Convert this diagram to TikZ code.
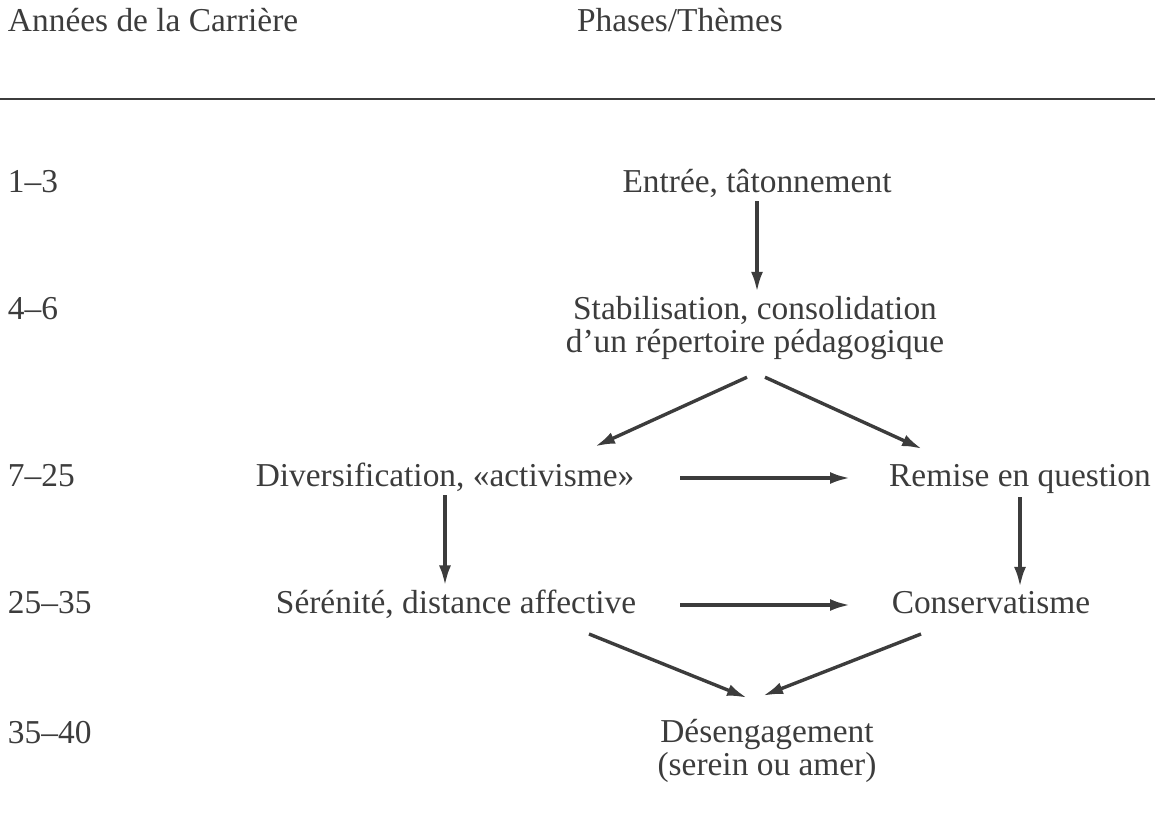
\documentclass[tikz,border=0pt]{standalone}
\usepackage{fontspec}
\setmainfont{Liberation Serif}
\usepackage{tikz}
\usetikzlibrary{arrows.meta,calc}
\definecolor{inkgray}{RGB}{60,60,60}
\tikzset{
  careerpic/.style={
    x=0.5pt,y=-0.5pt
    ,inner sep=2pt
    ,outer sep=0pt
  }
  ,txt/.style={font=\fontsize{16.7}{16.5}\selectfont,text=inkgray}
  ,yearlabel/.style={txt,anchor=base west,inner xsep=0pt}
  ,phase/.style={txt,anchor=base,align=center}
  ,flow/.style={draw=inkgray,line width=1.7pt,-{Latex[length=10pt,width=6pt]}}
  ,rule/.style={draw=inkgray,line width=1pt}
}

\begin{document}
\begin{tikzpicture}[careerpic]
  \useasboundingbox (0,0) rectangle (1155,813);
  % header
  \node[yearlabel] (hdyears) at (8,32) {Années de la Carrière};
  \node[yearlabel] (hdphases) at (577,32) {Phases/Thèmes};
  \draw[rule] (0,99) -- (1155,99);
  % years
  \node[yearlabel] (y13) at (8,192) {1–3};
  \node[yearlabel] (y46) at (8,319) {4–6};
  \node[yearlabel] (y725) at (8,486) {7–25};
  \node[yearlabel] (y2535) at (8,613) {25–35};
  \node[yearlabel] (y3540) at (8,743) {35–40};
  % phases (base = last line)
  \node[phase] (entree) at (757,192) {Entrée, tâtonnement};
  \node[phase] (stab) at (755,352) {Stabilisation, consolidation\\d’un répertoire pédagogique};
  \node[phase] (divers) at (445,486) {Diversification, «activisme»};
  \node[phase] (remise) at (1020,486) {Remise en question};
  \node[phase] (serenite) at (456,613) {Sérénité, distance affective};
  \node[phase] (conserv) at (991,613) {Conservatisme};
  \node[phase] (desen) at (767,775) {Désengagement\\(serein ou amer)};
  % arrows
  \draw[flow] (entree.south) -- (entree.south |- stab.north);
  \draw[flow] ($(stab.south)+(-8,14)$) -- ($(divers.north)+(150,-12)$);
  \draw[flow] ($(stab.south)+(10,14)$) -- ($(remise.north)+(-98,-11)$);
  \draw[flow] ($(divers.base)+(235,-8)$) -- ($(remise.base)+(-170,-8)$);
  \draw[flow] (divers.south) -- (divers.south |- serenite.north);
  \draw[flow] (remise.south) -- (remise.south |- conserv.north);
  \draw[flow] ($(serenite.base)+(224,-8)$) -- ($(conserv.base)+(-141,-8)$);
  \draw[flow] ($(serenite.base)+(133,21)$) -- ($(desen.north)+(-20,-17)$);
  \draw[flow] ($(conserv.base)+(-70,21)$) -- ($(desen.north)+(-4,-19)$);
\end{tikzpicture}
\end{document}
